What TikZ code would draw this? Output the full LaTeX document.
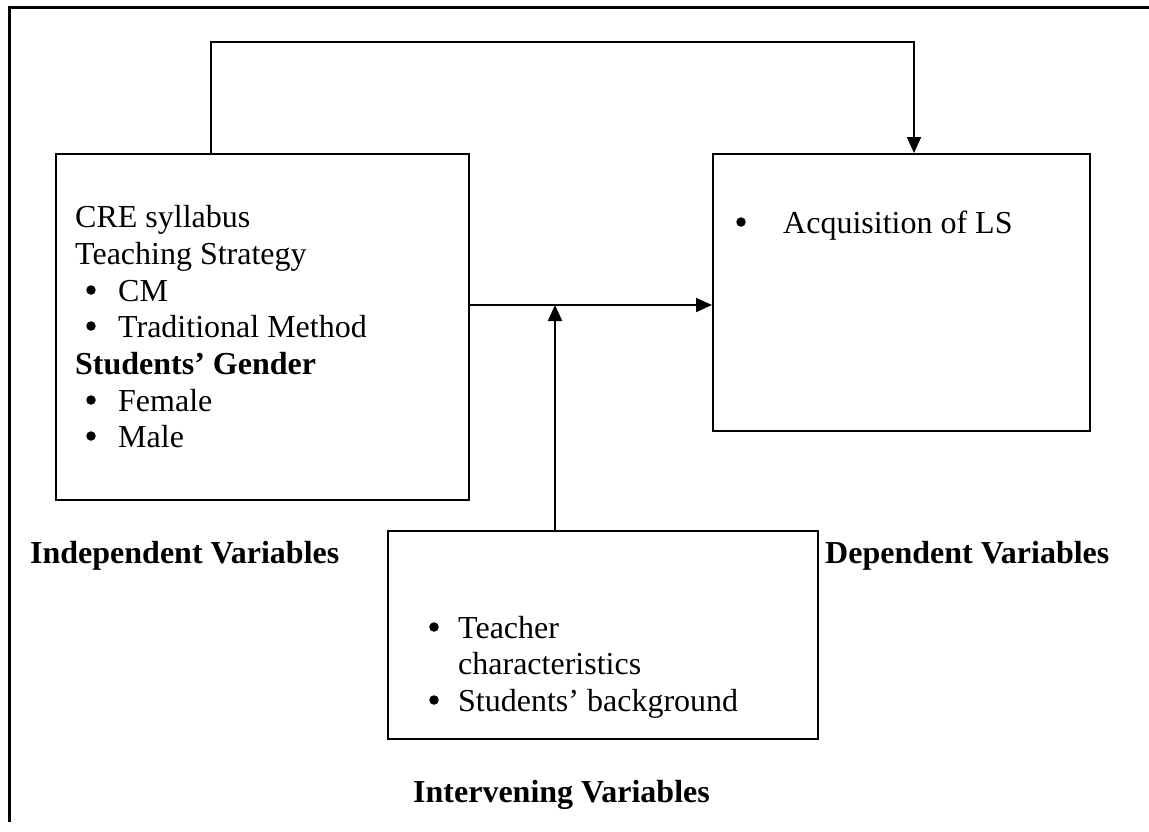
\documentclass[tikz,border=0pt]{standalone}
\usepackage{fontspec}
\setmainfont{Liberation Serif}
\usetikzlibrary{arrows.meta}
\begin{document}
\begin{tikzpicture}[x=1pt,y=-1pt,
  box/.style={draw,line width=2.2pt},
  conn/.style={line width=2pt,-{Triangle[length=16pt,width=14pt]}},
  txt/.style={anchor=base west,inner sep=0pt,font=\fontsize{32}{37}\selectfont},
  btxt/.style={txt,font=\fontsize{32}{37}\selectfont\bfseries},
  bul/.style={circle,fill,inner sep=0pt,minimum size=9.5pt}]
\useasboundingbox (0,0) rectangle (1149,831);
% outer frame
\draw[line width=3pt] (9,822) -- (9,7) -- (1149,7);
% boxes
\node[box,minimum width=413pt,minimum height=346pt,anchor=north west,inner sep=0pt] (ind) at (55,153) {};
\node[box,minimum width=377pt,minimum height=277pt,anchor=north west,inner sep=0pt] (dep) at (712,153) {};
\node[box,minimum width=430pt,minimum height=208pt,anchor=north west,inner sep=0pt] (int) at (387,530) {};
% left box text
\node[txt] (t1) at (75,227) {CRE syllabus};
\node[txt] (t2) at (75,264) {Teaching Strategy};
\node[bul] (b1) at (91,290) {};
\node[txt] (t3) at (118,301) {CM};
\node[bul] (b2) at (91,326) {};
\node[txt] (t4) at (118,337) {Traditional Method};
\node[btxt] (t5) at (75,374) {Students’ Gender};
\node[bul] (b3) at (91,400) {};
\node[txt] (t6) at (118,411) {Female};
\node[bul] (b4) at (91,436) {};
\node[txt] (t7) at (118,447) {Male};
% right box text
\node[bul] (b5) at (741,222) {};
\node[txt] (t8) at (783,233) {Acquisition of LS};
% lower box text
\node[bul] (b6) at (434,627) {};
\node[txt] (t9) at (458,638) {Teacher};
\node[txt] (t10) at (458,674) {characteristics};
\node[bul] (b7) at (434,700) {};
\node[txt] (t11) at (458,711) {Students’ background};
% labels
\node[btxt] (l1) at (30,563) {Independent Variables};
\node[btxt] (l2) at (825,563) {Dependent Variables};
\node[btxt] (l3) at (413,802) {Intervening Variables};
% connectors
\coordinate (top1) at (211,42);
\coordinate (top2) at (914,42);
\coordinate (mid) at (555,305);
\draw[conn] (ind.north west -| top1) -- (top1) -- (top2) -- (dep.north west -| top2);
\draw[conn] (ind.east |- mid) -- (dep.west |- mid);
\draw[conn] (int.north west -| mid) -- (mid);
\end{tikzpicture}
\end{document}
